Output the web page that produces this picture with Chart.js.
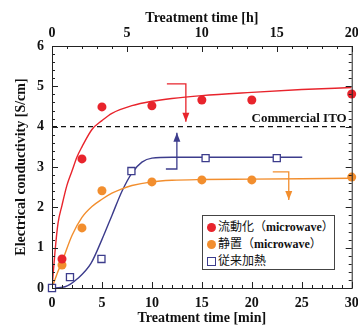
<!DOCTYPE html>
<html>
<head>
<meta charset="utf-8">
<script src="https://cdn.jsdelivr.net/npm/chart.js@4.4.1/dist/chart.umd.min.js"></script>
<style>
  html, body { margin: 0; padding: 0; background: #fff; }
  #wrap { position: relative; width: 358px; height: 327px; }
  #legend {
    position: absolute; left: 202px; top: 215px; width: 131px; height: 53px;
    border: 1px solid #444; background: #fff; box-sizing: content-box;
    font-family: 'Liberation Serif', 'Noto Sans CJK JP', serif; font-weight: bold; font-size: 12px;
  }
  .row { position: absolute; left: 4px; height: 16px; line-height: 16px; white-space: nowrap; color: #111; }
  .row .jp { font-family: 'Noto Sans CJK JP', sans-serif; font-weight: normal; }
  .dot { display: inline-block; width: 9px; height: 9px; border-radius: 50%; vertical-align: -1px; margin-right: 2px; }
  .sq { display: inline-block; width: 7px; height: 7px; border: 1.3px solid #3c3c8c; vertical-align: -1px; margin-right: 2px; background: #fff; }
</style>
</head>
<body>
<div id="wrap">
  <canvas id="c" width="358" height="327"></canvas>
  <div id="legend">
    <div class="row" style="top:2px"><span class="dot" style="background:#e8242c"></span><span class="jp">流動化（</span>microwave<span class="jp">）</span></div>
    <div class="row" style="top:19px"><span class="dot" style="background:#f28e2e"></span><span class="jp">静置（</span>microwave<span class="jp">）</span></div>
    <div class="row" style="top:36px"><span class="sq"></span><span class="jp">従来加熱</span></div>
  </div>
</div>
<script>
'use strict';

/* Conductivity vs treatment time: two microwave series (min) and conventional heating (h). */

const RED = '#e8242c';
const ORANGE = '#f28e2e';
const NAVY = '#3c3c8c';

// measured points, bottom axis in minutes
const flowX = [1, 3, 5, 10, 15, 20, 30];
const flowY = [0.72, 3.2, 4.49, 4.52, 4.66, 4.66, 4.81];
const staticX = [1, 3, 5, 10, 15, 20, 30];
const staticY = [0.57, 1.49, 2.41, 2.63, 2.68, 2.68, 2.75];

// conventional heating, top axis in hours
const convX = [0, 1.2, 3.3, 5.3, 10.25, 15];
const convY = [0, 0.27, 0.72, 2.9, 3.22, 3.22];

// guide curves
const flowFitX = [0, 0.3, 0.6, 1, 1.5, 2, 2.5, 3, 4, 5, 6, 8, 10, 12, 15, 20, 25, 30];
const flowFitY = [0, 0.9, 1.6, 2.05, 2.55, 2.9, 3.25, 3.5, 3.93, 4.15, 4.33, 4.52, 4.63, 4.7, 4.77, 4.85, 4.92, 4.97];
const staticFitX = [0, 0.5, 1, 2, 3, 4, 5, 6, 7, 8, 10, 12, 15, 20, 25, 30];
const staticFitY = [0, 0.35, 0.65, 1.3, 1.75, 2.02, 2.2, 2.35, 2.46, 2.54, 2.63, 2.67, 2.69, 2.7, 2.71, 2.72];
const convFitX = [0, 0.87, 1.73, 2.6, 3.33, 4, 4.67, 5.33, 6, 6.67, 8, 16.7];
const convFitY = [0, 0.03, 0.24, 0.61, 1.2, 1.8, 2.4, 2.85, 3.12, 3.22, 3.24, 3.24];

// commercial ITO reference level
const itoX = [0, 30];
const itoY = [4, 4];

// arrows (minutes, S/cm): path points, last one is the tip
const redArrow = [[11.5, 5.06], [13.4, 5.06], [13.4, 4.12]];
const navyArrow = [[11.4, 2.95], [12.5, 2.95], [12.5, 3.85]];
const orangeArrow = [[22.1, 2.88], [23.7, 2.88], [23.7, 2.18]];

const pts = (xs, ys) => xs.map((x, i) => ({ x, y: ys[i] }));

const SERIF = "'Liberation Serif', 'Times New Roman', serif";

// frame plus inward ticks on all four sides
const framePlugin = {
  id: 'frame',
  afterDatasetsDraw(chart) {
    const { ctx, chartArea: a, scales } = chart;
    ctx.save();
    ctx.strokeStyle = '#222';
    ctx.lineWidth = 1;
    ctx.strokeRect(a.left + 0.5, a.top + 0.5, a.right - a.left, a.bottom - a.top);
    ctx.beginPath();
    for (let i = 0; i <= 30; i++) {
      const v = i / 5;
      const py = Math.round(scales.y.getPixelForValue(v)) + 0.5;
      const len = i % 5 === 0 ? 6 : 3;
      ctx.moveTo(a.left, py); ctx.lineTo(a.left + len, py);
      ctx.moveTo(a.right, py); ctx.lineTo(a.right - len, py);
    }
    for (let m = 0; m <= 30; m++) {
      const px = Math.round(scales.x.getPixelForValue(m)) + 0.5;
      const len = m % 5 === 0 ? 6 : 3;
      ctx.moveTo(px, a.bottom); ctx.lineTo(px, a.bottom - len);
    }
    for (let h = 0; h <= 20; h++) {
      const px = Math.round(scales.x2.getPixelForValue(h)) + 0.5;
      const len = h % 5 === 0 ? 6 : 3;
      ctx.moveTo(px, a.top); ctx.lineTo(px, a.top + len);
    }
    ctx.stroke();

    const drawArrow = (path, color) => {
      const p = path.map(([x, y]) => [scales.x.getPixelForValue(x), scales.y.getPixelForValue(y)]);
      ctx.strokeStyle = color;
      ctx.fillStyle = color;
      ctx.lineWidth = 1.3;
      ctx.beginPath();
      ctx.moveTo(p[0][0], p[0][1]);
      for (let i = 1; i < p.length; i++) ctx.lineTo(p[i][0], p[i][1]);
      ctx.stroke();
      const [tx, ty] = p[p.length - 1];
      const dir = ty > p[p.length - 2][1] ? 1 : -1;
      ctx.beginPath();
      ctx.moveTo(tx, ty);
      ctx.lineTo(tx - 3.5, ty - dir * 9);
      ctx.lineTo(tx + 3.5, ty - dir * 9);
      ctx.closePath();
      ctx.fill();
    };
    drawArrow(redArrow, RED);
    drawArrow(navyArrow, NAVY);
    drawArrow(orangeArrow, ORANGE);

    ctx.fillStyle = '#111';
    ctx.font = 'bold 13px ' + SERIF;
    ctx.textAlign = 'right';
    ctx.textBaseline = 'bottom';
    ctx.fillText('Commercial ITO', a.right - 5, scales.y.getPixelForValue(4) - 2);
    ctx.restore();
  },
};

const line = (data, color, axis) => ({
  type: 'line', data, xAxisID: axis || 'x', borderColor: color, borderWidth: 1.4,
  pointRadius: 0, cubicInterpolationMode: 'monotone', fill: false, order: 2,
});

const datasets = [
  line(pts(flowFitX, flowFitY), RED),
  line(pts(staticFitX, staticFitY), ORANGE),
  line(pts(convFitX, convFitY), NAVY, 'x2'),
  {
    type: 'line', data: pts(itoX, itoY), borderColor: '#111', borderWidth: 1.2,
    borderDash: [5, 4], pointRadius: 0, fill: false, order: 2,
  },
  {
    type: 'scatter', label: '流動化（microwave）', data: pts(flowX, flowY), clip: false,
    backgroundColor: RED, borderColor: RED, pointRadius: 4.5, borderWidth: 0, order: 1,
  },
  {
    type: 'scatter', label: '静置（microwave）', data: pts(staticX, staticY), clip: false,
    backgroundColor: ORANGE, borderColor: ORANGE, pointRadius: 4.5, borderWidth: 0, order: 1,
  },
  {
    type: 'scatter', label: '従来加熱', data: pts(convX, convY), xAxisID: 'x2', clip: false,
    pointStyle: 'rect', backgroundColor: '#fff', borderColor: NAVY, pointRadius: 5, borderWidth: 1.3, order: 0,
  },
];

const tickFont = { family: SERIF, size: 14, weight: 'bold' };
const titleFont = { family: SERIF, size: 14, weight: 'bold' };

function fixSize(prop, val) {
  return (s) => { s[prop] = val; s.paddingLeft = 0; s.paddingRight = 0; s.paddingTop = 0; s.paddingBottom = 0; };
}

new Chart(document.getElementById('c'), {
  type: 'scatter',
  data: { datasets },
  options: {
    responsive: false,
    animation: false,
    layout: { padding: { right: 4, left: 0, top: 0, bottom: 0 } },
    plugins: { legend: { display: false }, tooltip: { enabled: false } },
    scales: {
      x: {
        type: 'linear', position: 'bottom', min: 0, max: 30,
        grid: { display: false, drawTicks: false }, border: { display: false },
        ticks: { stepSize: 5, color: '#111', font: tickFont, padding: 7, maxRotation: 0 },
        title: { display: true, text: 'Treatment time [min]', color: '#111', font: titleFont, padding: { top: 0, bottom: 0 } },
        afterFit: fixSize('height', 39),
      },
      x2: {
        type: 'linear', position: 'top', min: 0, max: 20,
        grid: { display: false, drawTicks: false }, border: { display: false },
        ticks: { stepSize: 5, color: '#111', font: tickFont, padding: 4, maxRotation: 0 },
        title: { display: true, text: 'Treatment time [h]', color: '#111', font: titleFont, padding: { top: 10, bottom: 0 } },
        afterFit: fixSize('height', 46),
      },
      y: {
        type: 'linear', position: 'left', min: 0, max: 6,
        grid: { display: false, drawTicks: false }, border: { display: false },
        ticks: { stepSize: 1, color: '#111', font: tickFont, padding: 8 },
        title: { display: true, text: 'Electrical conductivity [S/cm]', color: '#111', font: titleFont, padding: { top: 13, bottom: 0 } },
        afterFit: fixSize('width', 52),
      },
    },
  },
  plugins: [framePlugin],
});
</script>
</body>
</html>
